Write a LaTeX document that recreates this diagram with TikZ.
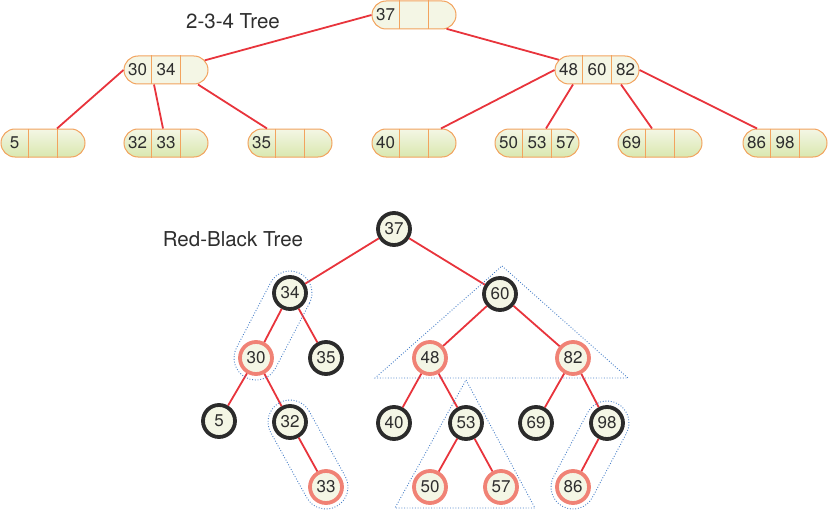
\documentclass[tikz,border=0pt]{standalone}
\usepackage{fontspec}
\setmainfont{TeX Gyre Heros}
\usetikzlibrary{shapes.misc,calc}
\definecolor{edgered}{HTML}{E8343C}
\definecolor{cellborder}{HTML}{F2A35E}
\definecolor{cream}{HTML}{F4F6E5}
\definecolor{leafgreen}{HTML}{D9E8AF}
\definecolor{ringblack}{HTML}{2B2B2B}
\definecolor{ringred}{HTML}{F08275}
\definecolor{groupblue}{HTML}{4A80C8}
\definecolor{textgrey}{HTML}{2E2E2E}
\begin{document}
\begin{tikzpicture}[x=1pt,y=-1pt,
    every node/.style={text=textgrey, font=\fontsize{17}{17}\selectfont},
    bnode/.style={draw=cellborder, line width=1pt, shape=rounded rectangle, minimum width=84pt, minimum height=28pt, inner sep=0pt},
    leaf/.style={bnode, top color=cream, bottom color=leafgreen},
    upper/.style={bnode, fill=cream},
    rb/.style={draw, shape=circle, fill=cream, minimum size=32pt, line width=3.8pt, inner sep=0pt},
    link/.style={draw=edgered, line width=1.8pt},
    group/.style={draw=groupblue, line width=0.9pt, dash pattern=on 0.9pt off 1.8pt}]
  \useasboundingbox (0,0) rectangle (828,511);

  % 2-3-4 tree
  \node[font=\fontsize{20.5}{20.5}\selectfont] (title234) at (233,21) {2-3-4 Tree};
  \foreach \n/\x/\y/\s/\a/\b/\c in {t37/414/15/upper/37//, t3034/166/70/upper/30/34/, t486082/597/70/upper/48/60/82,
      t5/43/143/leaf/5//, t3233/166/143/leaf/32/33/, t35/290/143/leaf/35//, t40/414/143/leaf/40//,
      t505357/537/143/leaf/50/53/57, t69/660/143/leaf/69//, t8698/785/143/leaf/86/98/} {
    \node[\s] (\n) at (\x,\y) {};
    \draw[cellborder, line width=1pt] ([xshift=-14.25pt]\n.north) -- ([xshift=-14.25pt]\n.south);
    \draw[cellborder, line width=1pt] ([xshift=14.25pt]\n.north) -- ([xshift=14.25pt]\n.south);
    \node (\n-a) at ([xshift=-28.5pt]\n.center) {\a};
    \node (\n-b) at (\n.center) {\b};
    \node (\n-c) at ([xshift=28.5pt]\n.center) {\c};
  }
  \draw[link] (t37.west) -- (t3034.14);
  \draw[link] (t37.-23) -- (t486082.165);
  \draw[link] (t3034.west) -- ([xshift=14pt]t5.north);
  \draw[link] ([xshift=-12pt]t3034.south) -- ([xshift=-3pt]t3233.north);
  \draw[link] ([xshift=32pt]t3034.south) -- ([xshift=-23pt]t35.north);
  \draw[link] (t486082.west) -- ([xshift=27pt]t40.north);
  \draw[link] ([xshift=-24pt]t486082.south) -- ([xshift=9pt]t505357.north);
  \draw[link] ([xshift=24pt]t486082.south) -- ([xshift=-8pt]t69.north);
  \draw[link] (t486082.east) -- ([xshift=-28pt]t8698.north);

  % red-black tree
  \node[font=\fontsize{20.5}{20.5}\selectfont] (titlerb) at (233,239) {Red-Black Tree};
  \foreach \k/\x/\y/\c in {37/394/229/ringblack, 34/290/293/ringblack, 60/500/294/ringblack,
      30/256/358/ringred, 35/326/358/ringblack, 48/430/358/ringred, 82/573/358/ringred,
      5/219/421/ringblack, 32/290/422/ringblack, 40/394/423/ringblack, 53/466/423/ringblack,
      69/536/423/ringblack, 98/607/423/ringblack,
      33/326/487/ringred, 50/430/487/ringred, 57/501/487/ringred, 86/573/487/ringred}
    \node[rb, draw=\c] (n\k) at (\x,\y) {\k};
  \foreach \a/\b in {37/34, 37/60, 34/30, 34/35, 30/5, 30/32, 32/33, 60/48, 60/82,
      48/40, 48/53, 53/50, 53/57, 82/69, 82/98, 98/86}
    \draw[link] (n\a) -- (n\b);

  % groups
  \foreach \a/\b in {34/30, 32/33, 98/86}
    \draw[group] let \p1=($(n\b)-(n\a)$), \n1={atan2(\y1,\x1)} in
      ($(n\a)+(\n1+90:22pt)$) arc[start angle=\n1+90, end angle=\n1+270, radius=22pt]
      -- ($(n\b)+(\n1-90:22pt)$) arc[start angle=\n1-90, end angle=\n1+90, radius=22pt] -- cycle;
  \draw[group] (502,266) -- (628,378) -- (375,378) -- cycle;
  \draw[group] (466,380) -- (535,508) -- (395,508) -- cycle;
\end{tikzpicture}
\end{document}
